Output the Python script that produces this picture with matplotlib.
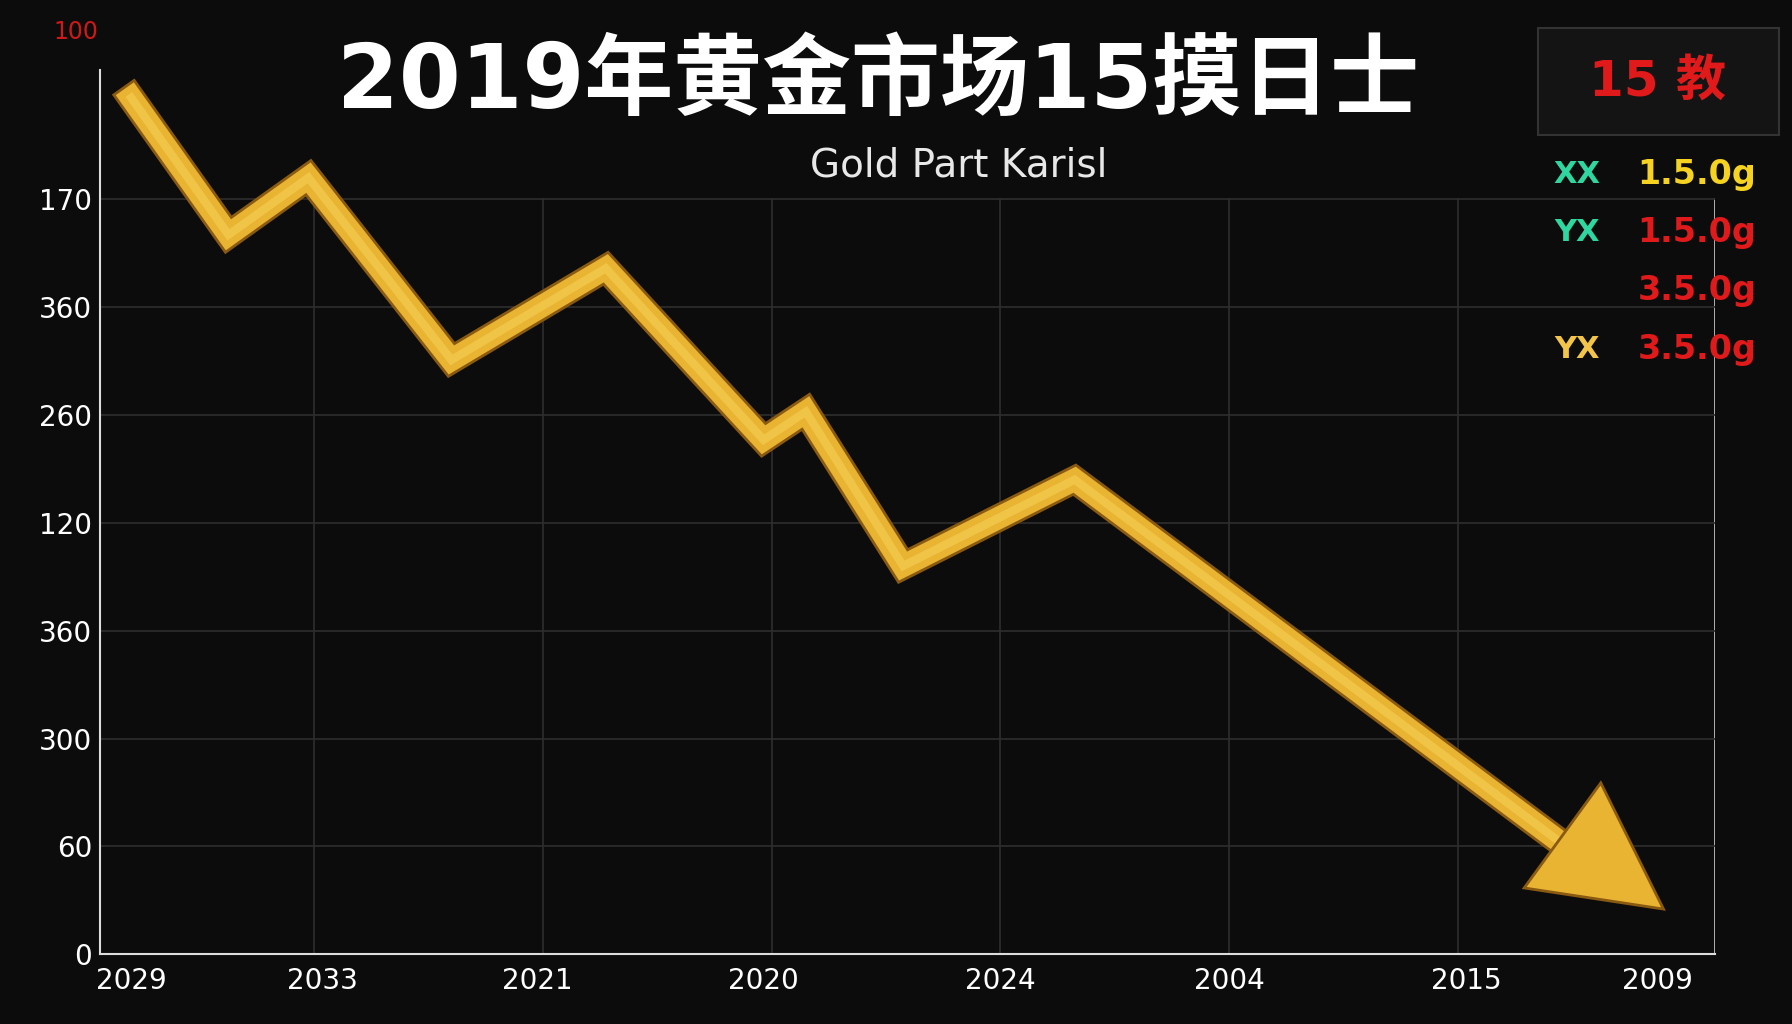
import matplotlib
matplotlib.use("Agg")
import matplotlib.pyplot as plt
import numpy as np

plt.rcParams['font.family'] = ['DejaVu Sans', 'Noto Sans CJK SC']

x_labels = ["2029", "2033", "2021", "2020", "2024", "2004", "2015", "2009"]
x_label_pos = [0.2, 1.035, 1.975, 2.965, 4.0, 5.0, 6.04, 6.875]
y_labels = ["0", "60", "300", "360", "120", "260", "360", "170"]
line_x = [0.2, 0.625, 0.975, 1.6, 2.275, 2.965, 3.15, 3.575, 4.325, 6.6]
line_y = [7.94, 6.67, 7.2, 5.51, 6.36, 4.77, 5.03, 3.6, 4.4, 0.8]
tip = (6.9, 0.42)
legend_marks = ["XX", "YX", "", "YX"]
legend_mark_colors = ["#2fd6a0", "#2fd6a0", "#2fd6a0", "#f2c44a"]
legend_vals = ["1.5.0g", "1.5.0g", "3.5.0g", "3.5.0g"]
legend_val_colors = ["#f5d320", "#e01a1a", "#e01a1a", "#e01a1a"]

bg = "#0c0c0c"
fig = plt.figure(figsize=(17.92, 10.24), dpi=100, facecolor=bg)
ax = fig.add_axes([0.056, 0.068, 0.901, 0.906])
ax.set_facecolor(bg)
ax.set_xlim(0.065, 7.125)
ax.set_ylim(0, 8.6)

for gx in range(1, 8):
    ax.plot([gx, gx] if gx < 7 else [7.125, 7.125], [0, 7.0], color="#2e2e2e" if gx < 7 else "#cccccc", lw=1.2, zorder=1)
for gy in range(1, 8):
    ax.plot([0.065, 7.125], [gy, gy], color="#2e2e2e", lw=1.2, zorder=1)

for s in ["top", "right"]:
    ax.spines[s].set_visible(False)
for s in ["left", "bottom"]:
    ax.spines[s].set_color("#dddddd")
    ax.spines[s].set_linewidth(1.5)
ax.spines["left"].set_bounds(0, 8.2)

ax.set_xticks(x_label_pos)
ax.set_xticklabels(x_labels, color="white", fontsize=20)
ax.set_yticks(range(8))
ax.set_yticklabels(y_labels, color="white", fontsize=20)
ax.tick_params(axis="y", length=0, pad=6)
ax.tick_params(axis="x", length=0, pad=9)
ax.text(-0.04, 8.55, "100", color="#d01818", fontsize=17, ha="center", va="center")

ax.plot(line_x, line_y, color="#8a5a10", lw=20, solid_joinstyle="miter", zorder=3)
ax.plot(line_x, line_y, color="#e8b432", lw=16, solid_joinstyle="miter", zorder=4)
ax.plot(line_x, line_y, color="#f6cf55", lw=6, solid_joinstyle="miter", zorder=5, alpha=0.6)

p0 = np.array(ax.transData.transform((line_x[-2], line_y[-2])))
p1 = np.array(ax.transData.transform(tip))
d = (p1 - p0) / np.linalg.norm(p1 - p0)
n = np.array([-d[1], d[0]])
base = p1 - d * 125
tri = np.array([p1, base + n * 65, base - n * 65])
tri_d = ax.transData.inverted().transform(tri)
ax.fill(tri_d[:, 0], tri_d[:, 1], color="#e8b432", ec="#8a5a10", lw=2, zorder=6)

fig.text(0.49, 0.918, "2019年黄金市场15摸日士", color="white", fontsize=64,
         fontweight="bold", ha="center", va="center",
         family=['DejaVu Sans', 'Noto Sans CJK SC'])
fig.text(0.535, 0.838, "Gold Part Karisl", color="#e8e8e8", fontsize=28,
         ha="center", va="center")

fig.patches.append(plt.Rectangle((0.858, 0.868), 0.135, 0.105, transform=fig.transFigure,
                                 facecolor="#141414", edgecolor="#333333", lw=1.5))
fig.text(0.925, 0.92, "15 教", color="#e01a1a", fontsize=36, fontweight="bold",
         ha="center", va="center")
for i in range(4):
    yy = 0.83 - i * 0.057
    if legend_marks[i]:
        fig.text(0.88, yy, legend_marks[i], color=legend_mark_colors[i], fontsize=22,
                 fontweight="bold", ha="center", va="center")
    fig.text(0.947, yy, legend_vals[i], color=legend_val_colors[i], fontsize=24,
             fontweight="bold", ha="center", va="center")

fig.savefig("out.png", dpi=100, facecolor=bg)
